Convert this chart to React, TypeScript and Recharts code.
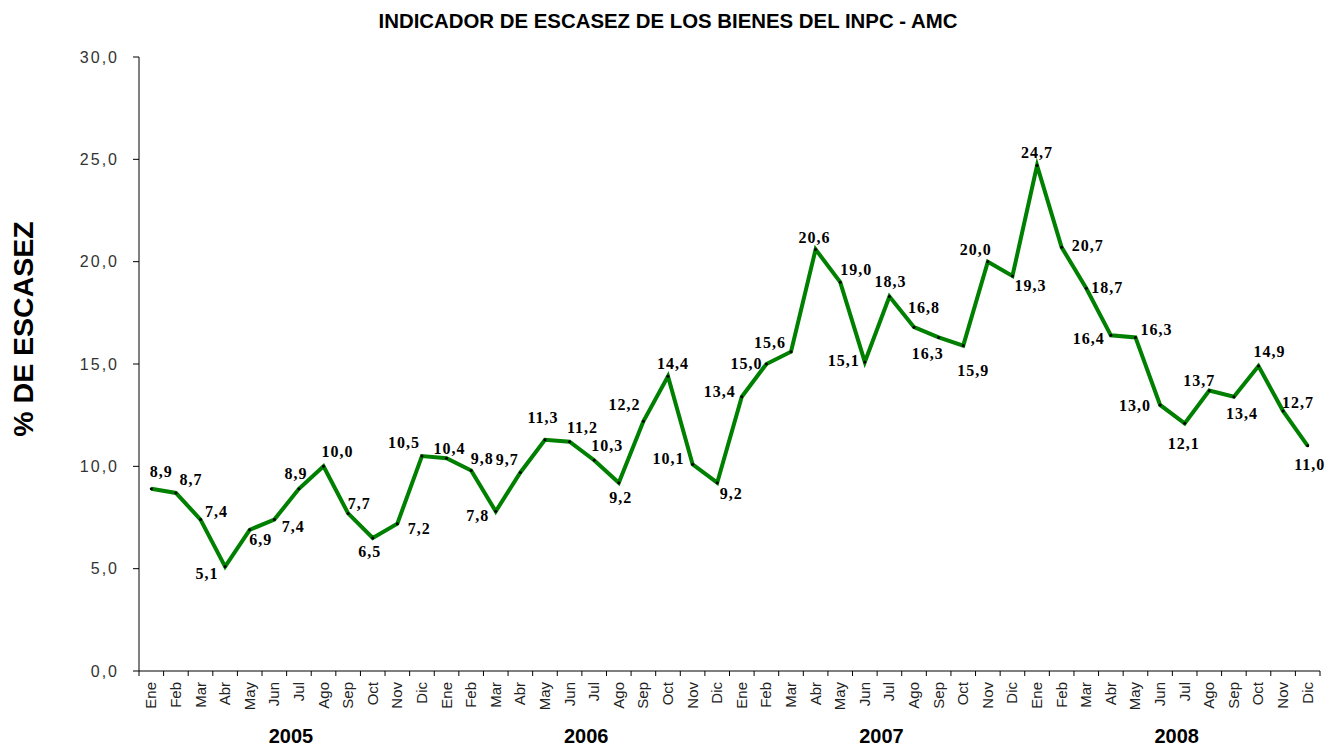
import React from 'react';
import { LineChart, Line, XAxis, YAxis, LabelList } from 'recharts';

const months = ['Ene', 'Feb', 'Mar', 'Abr', 'May', 'Jun', 'Jul', 'Ago', 'Sep', 'Oct', 'Nov', 'Dic'];
const years = ['2005', '2006', '2007', '2008'];
const values2005 = [8.9, 8.7, 7.4, 5.1, 6.9, 7.4, 8.9, 10.0, 7.7, 6.5, 7.2, 10.5];
const values2006 = [10.4, 9.8, 7.8, 9.7, 11.3, 11.2, 10.3, 9.2, 12.2, 14.4, 10.1, 9.2];
const values2007 = [13.4, 15.0, 15.6, 20.6, 19.0, 15.1, 18.3, 16.8, 16.3, 15.9, 20.0, 19.3];
const values2008 = [24.7, 20.7, 18.7, 16.4, 16.3, 13.0, 12.1, 13.7, 13.4, 14.9, 12.7, 11.0];
const yTicks = [0, 5, 10, 15, 20, 25, 30];
const title = 'INDICADOR DE ESCASEZ DE LOS BIENES DEL INPC - AMC';
const yTitle = '% DE ESCASEZ';

// label placement (pixel offsets from each point), styling only
const labelOffsets: [number, number][] = [
  [10, -17], [15, -13], [16, -8], [-18, 7], [11, 10], [19, 7], [-3, -15], [14, -15], [11, -10], [-3, 14], [22, 5], [-18, -14],
  [3, -10], [11, -12], [-18, 4], [-13, -13], [-2, -22], [13, -14], [13, -15], [2, 15], [-19, -17], [5, -13], [-24, -6], [14, 11],
  [-22, -5], [-20, -1], [-21, -9], [-1, -12], [16, -13], [-21, -1], [1, -15], [10, -20], [-11, 16], [10, 25], [-12, -12], [18, 10],
  [0, -13], [26, -2], [21, -1], [-22, 3], [21, -8], [-25, 1], [-1, 20], [-10, -10], [8, 17], [11, -15], [15, -9], [2, 19],
];

const seriesByYear = [values2005, values2006, values2007, values2008];
const data = years.flatMap((yr, yi) =>
  seriesByYear[yi].map((v, mi) => ({ key: `${months[mi]}-${yr}`, month: months[mi], year: yr, value: v }))
);

const fmt = (v: number) => v.toFixed(1).replace('.', ',');
const HALF_BAND = 12.3;

const XTick = (props: any) => {
  const { x, y, index } = props;
  const d = data[index];
  if (!d) return null;
  return (
    <g>
      <line x1={x - HALF_BAND} y1={y} x2={x - HALF_BAND} y2={y + 5} stroke="#000" strokeWidth={1} />
      {index === data.length - 1 && (
        <line x1={x + HALF_BAND} y1={y} x2={x + HALF_BAND} y2={y + 5} stroke="#000" strokeWidth={1} />
      )}
      <text
        transform={`translate(${x + 5},${y + 11}) rotate(-90)`}
        textAnchor="end"
        fontSize={15}
        fontFamily="'Liberation Sans', Arial, sans-serif"
        fill="#222"
      >
        {d.month}
      </text>
      {index % 12 === 6 && (
        <text
          x={x - 8}
          y={y + 72}
          textAnchor="middle"
          fontSize={20}
          fontWeight="bold"
          fontFamily="'Liberation Sans', Arial, sans-serif"
          fill="#000"
        >
          {d.year}
        </text>
      )}
    </g>
  );
};

const PointLabel = (props: any) => {
  const { x, y, value, index } = props;
  const off = labelOffsets[index] || [0, -12];
  return (
    <text
      x={x + off[0]}
      y={y + off[1]}
      textAnchor="middle"
      dominantBaseline="central"
      fontSize={16}
      fontWeight="bold"
      letterSpacing={1}
      fontFamily="'Liberation Serif', 'Times New Roman', serif"
      fill="#000"
    >
      {fmt(value)}
    </text>
  );
};

export default function App() {
  return (
    <div style={{ width: 1330, height: 747, position: 'relative' }}>
      <style>{`body{margin:0;}`}</style>
      <LineChart
        width={1330}
        height={747}
        data={data}
        margin={{ top: 57, right: 10, bottom: 0, left: 0 }}
      >
        <text
          x={668}
          y={28}
          textAnchor="middle"
          fontSize={20.4}
          fontWeight="bold"
          fontFamily="'Liberation Sans', Arial, sans-serif"
          fill="#000"
        >
          {title}
        </text>
        <text
          x={33}
          y={329}
          transform="rotate(-90, 33, 329)"
          textAnchor="middle"
          fontSize={28.5}
          fontWeight="bold"
          fontFamily="'Liberation Sans', Arial, sans-serif"
          fill="#000"
        >
          {yTitle}
        </text>
        <XAxis
          dataKey="key"
          interval={0}
          height={76}
          padding={{ left: HALF_BAND, right: HALF_BAND }}
          tickSize={0}
          tickMargin={0}
          tickLine={false}
          axisLine={{ stroke: '#000', strokeWidth: 1 }}
          tick={<XTick />}
        />
        <YAxis
          width={139}
          domain={[0, 30]}
          ticks={yTicks}
          interval={0}
          tickFormatter={fmt}
          tickSize={6}
          tickMargin={14}
          axisLine={{ stroke: '#000', strokeWidth: 1 }}
          tickLine={{ stroke: '#000', strokeWidth: 1 }}
          tick={{ fontSize: 16, fill: '#333', fontFamily: "'Liberation Sans', Arial, sans-serif", letterSpacing: 2 }}
        />
        <Line
          type="linear"
          dataKey="value"
          stroke="#008000"
          strokeWidth={4}
          dot={{ r: 1.5, fill: '#000', stroke: 'none' }}
          activeDot={false}
          isAnimationActive={false}
        >
          <LabelList dataKey="value" content={<PointLabel />} />
        </Line>
      </LineChart>
    </div>
  );
}
